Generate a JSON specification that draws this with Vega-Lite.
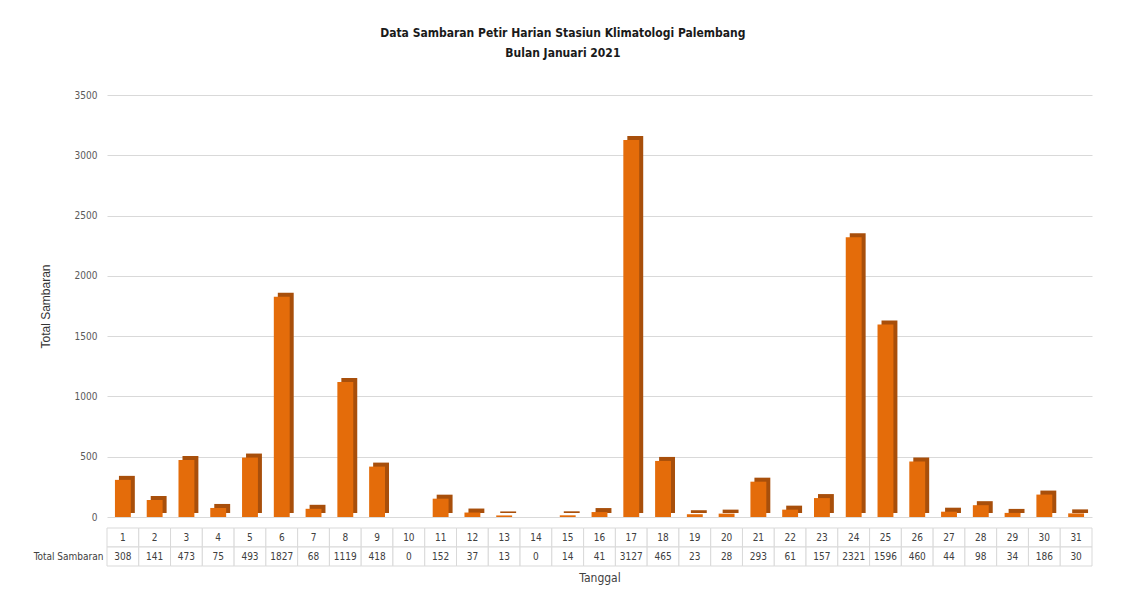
{
  "$schema": "https://vega.github.io/schema/vega-lite/v6.json",
  "background": "white",
  "padding": {"left": 33, "top": 27, "right": 8, "bottom": 5},
  "title": {
    "text": ["Data Sambaran Petir Harian Stasiun Klimatologi Palembang", "Bulan Januari 2021"],
    "font": "DejaVu Sans Condensed",
    "fontSize": 12,
    "fontWeight": "bold",
    "color": "#1a1a1a",
    "lineHeight": 20,
    "anchor": "middle",
    "offset": 30
  },
  "data": {
    "values": [
      {"day": 1, "total": 308}, {"day": 2, "total": 141}, {"day": 3, "total": 473},
      {"day": 4, "total": 75}, {"day": 5, "total": 493}, {"day": 6, "total": 1827},
      {"day": 7, "total": 68}, {"day": 8, "total": 1119}, {"day": 9, "total": 418},
      {"day": 10, "total": 0}, {"day": 11, "total": 152}, {"day": 12, "total": 37},
      {"day": 13, "total": 13}, {"day": 14, "total": 0}, {"day": 15, "total": 14},
      {"day": 16, "total": 41}, {"day": 17, "total": 3127}, {"day": 18, "total": 465},
      {"day": 19, "total": 23}, {"day": 20, "total": 28}, {"day": 21, "total": 293},
      {"day": 22, "total": 61}, {"day": 23, "total": 157}, {"day": 24, "total": 2321},
      {"day": 25, "total": 1596}, {"day": 26, "total": 460}, {"day": 27, "total": 44},
      {"day": 28, "total": 98}, {"day": 29, "total": 34}, {"day": 30, "total": 186},
      {"day": 31, "total": 30}
    ]
  },
  "spacing": 5,
  "vconcat": [
    {
      "width": 985,
      "height": 422,
      "encoding": {
        "x": {"field": "day", "type": "ordinal", "scale": {"paddingInner": 0, "paddingOuter": 0}, "axis": null},
        "y": {
          "field": "total", "type": "quantitative",
          "scale": {"domain": [0, 3500], "nice": false},
          "axis": {
            "values": [0, 500, 1000, 1500, 2000, 2500, 3000, 3500],
            "format": "d",
            "title": "Total Sambaran",
            "titleFont": "Liberation Sans",
            "titleFontSize": 12,
            "titleFontWeight": "normal",
            "titleColor": "#333333",
            "titlePadding": 22,
            "labelFont": "DejaVu Sans Condensed",
            "labelFontSize": 10,
            "labelColor": "#595959",
            "labelPadding": 10,
            "domain": false,
            "ticks": false,
            "grid": true,
            "gridColor": "#d9d9d9"
          }
        }
      },
      "layer": [
        {"mark": {"type": "bar", "width": {"band": 0.5}, "color": "#a84f0b", "xOffset": 4, "yOffset": -4}},
        {"mark": {"type": "bar", "width": {"band": 0.5}, "color": "#e46c0a"}}
      ]
    },
    {
      "width": 985,
      "height": 38,
      "transform": [{"fold": ["day", "total"], "as": ["row", "val"]}],
      "encoding": {
        "x": {
          "field": "day", "type": "ordinal",
          "scale": {"paddingInner": 0, "paddingOuter": 0},
          "axis": {
            "labels": false, "ticks": false, "domain": false,
            "title": "Tanggal",
            "titleFont": "DejaVu Sans Condensed",
            "titleFontSize": 12,
            "titleFontWeight": "normal",
            "titleColor": "#404040",
            "titlePadding": 6
          }
        },
        "y": {
          "field": "row", "type": "nominal",
          "sort": ["day", "total"],
          "axis": {
            "title": null,
            "labelExpr": "datum.value == 'total' ? 'Total Sambaran' : ''",
            "labelFont": "DejaVu Sans Condensed",
            "labelFontSize": 10,
            "labelColor": "#404040",
            "labelPadding": 4,
            "ticks": false,
            "domain": false
          }
        }
      },
      "layer": [
        {"mark": {"type": "rect", "fill": "white", "stroke": "#d9d9d9", "strokeWidth": 1}},
        {
          "mark": {"type": "text", "font": "DejaVu Sans Condensed", "fontSize": 10, "color": "#404040"},
          "encoding": {"text": {"field": "val", "type": "nominal"}}
        }
      ]
    }
  ],
  "config": {"view": {"stroke": null}}
}
